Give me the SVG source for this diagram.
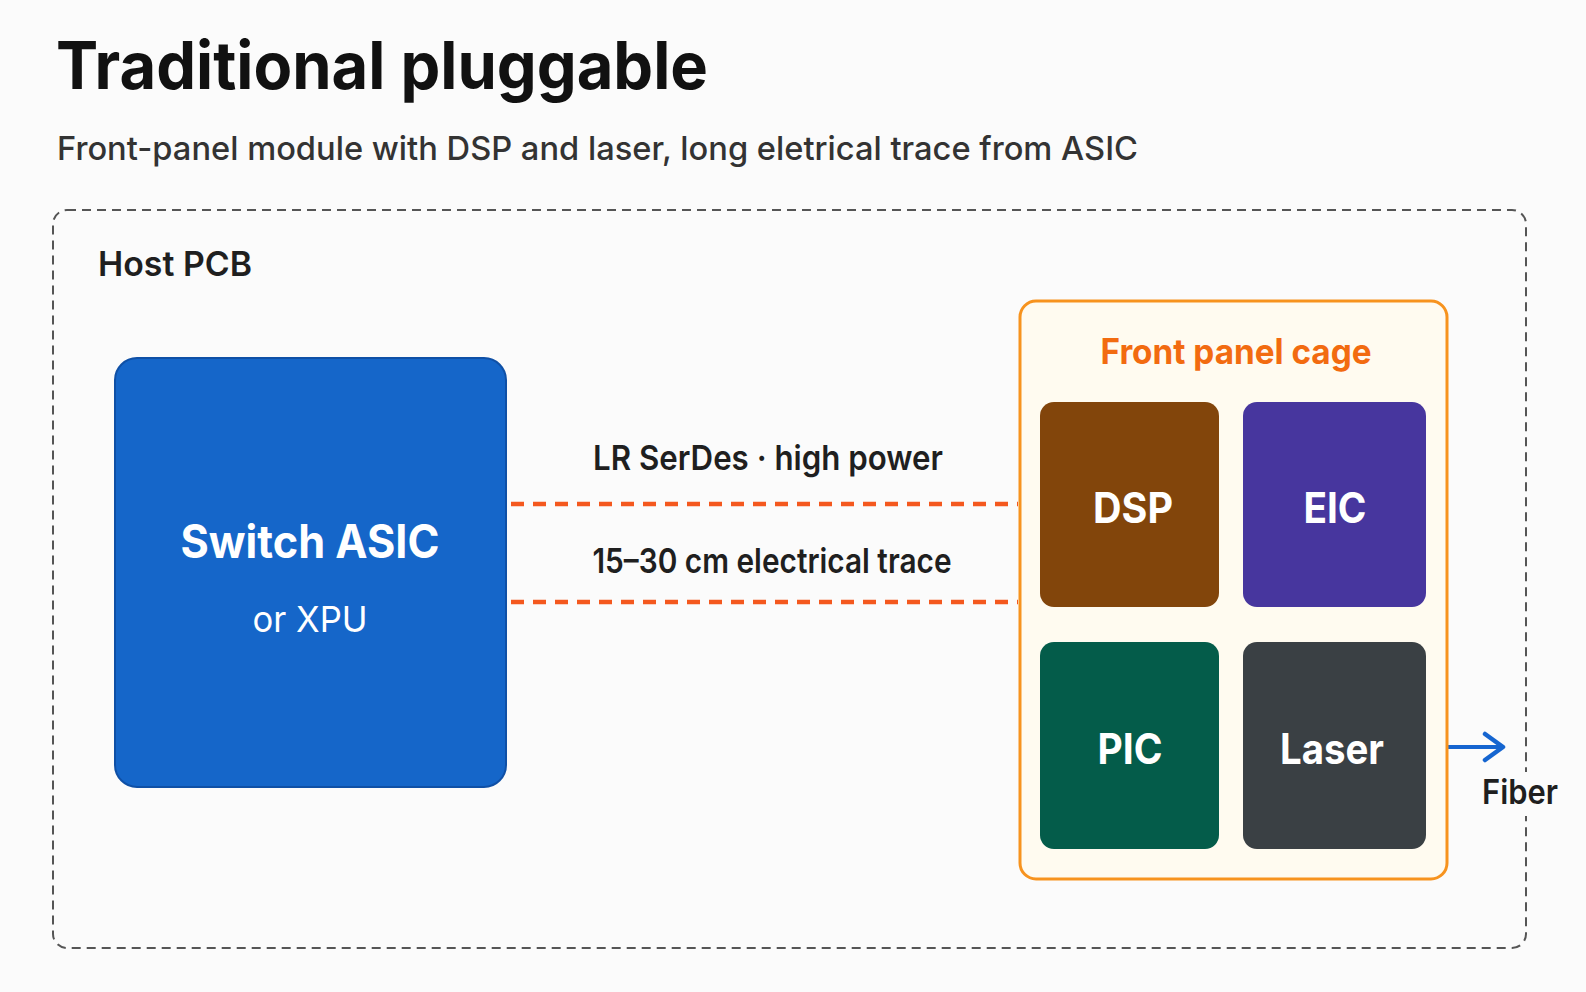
<svg xmlns="http://www.w3.org/2000/svg" width="1586" height="992" viewBox="0 0 1586 992">
<defs>
<style>
text{font-family:Inter,"Noto Sans","Liberation Sans",sans-serif}
.title{font-size:66px;font-weight:700;fill:#111}
.sub{font-size:33px;font-weight:500;fill:#333}
.lbl{font-size:34px;font-weight:600;fill:#1f1f1f}
.chip{font-size:42px;font-weight:700;fill:#fff;text-anchor:middle}
.trace{stroke:#F4581E;stroke-width:4.5;stroke-dasharray:13 9;fill:none}
</style>
<marker id="chev" viewBox="0 0 24 32" refX="21" refY="16" markerWidth="24" markerHeight="32" markerUnits="userSpaceOnUse" orient="auto">
<path d="M3 3 L21 16 L3 29" fill="none" stroke="#1565D0" stroke-width="4.5" stroke-linecap="round" stroke-linejoin="round"/>
</marker>
</defs>
<rect width="1586" height="992" fill="#FBFBFB"/>
<text class="title" x="56" y="89" textLength="652" lengthAdjust="spacingAndGlyphs">Traditional pluggable</text>
<text class="sub" x="57" y="160" textLength="1081" lengthAdjust="spacingAndGlyphs">Front-panel module with DSP and laser, long eletrical trace from ASIC</text>

<g id="host-pcb">
<rect x="53" y="210" width="1473" height="738" rx="14" fill="none" stroke="#555" stroke-width="2" stroke-dasharray="9 6"/>
<text class="lbl" x="98" y="276" font-size="36" textLength="154" lengthAdjust="spacingAndGlyphs">Host PCB</text>
</g>

<g id="switch-asic">
<rect x="115" y="358" width="391" height="429" rx="22" fill="#1566C9" stroke="#0F50A6" stroke-width="2"/>
<text x="310" y="558" text-anchor="middle" font-size="46" font-weight="700" fill="#fff" textLength="259" lengthAdjust="spacingAndGlyphs">Switch ASIC</text>
<text x="310" y="632" text-anchor="middle" font-size="36" font-weight="400" fill="#fff" textLength="115" lengthAdjust="spacingAndGlyphs">or XPU</text>
</g>

<g id="connectors">
<line class="trace" x1="511" y1="504" x2="1018" y2="504"/>
<line class="trace" x1="511" y1="602" x2="1018" y2="602"/>
<text class="lbl" x="768" y="470" text-anchor="middle" font-weight="500" textLength="350" lengthAdjust="spacingAndGlyphs">LR SerDes · high power</text>
<text class="lbl" x="772" y="573" text-anchor="middle" font-weight="500" textLength="359" lengthAdjust="spacingAndGlyphs">15–30 cm electrical trace</text>
<line x1="1426" y1="747" x2="1503" y2="747" stroke="#1565D0" stroke-width="4" marker-end="url(#chev)"/>
<rect x="1515" y="772" width="22" height="44" fill="#FBFBFB"/>
<text class="lbl" x="1482" y="804" textLength="76" lengthAdjust="spacingAndGlyphs">Fiber</text>
</g>

<g id="front-panel-cage">
<rect x="1020" y="301" width="427" height="578" rx="16" fill="#FFFBF0" stroke="#F7931E" stroke-width="3"/>
<text x="1236" y="364" text-anchor="middle" font-size="35" font-weight="700" fill="#F26B10" textLength="271" lengthAdjust="spacingAndGlyphs">Front panel cage</text>
</g>

<g id="dsp">
<rect x="1040" y="402" width="179" height="205" rx="14" fill="#82450B"/>
<text class="chip" x="1133" y="523" textLength="80" lengthAdjust="spacingAndGlyphs">DSP</text>
</g>
<g id="eic">
<rect x="1243" y="402" width="183" height="205" rx="14" fill="#47369E"/>
<text class="chip" x="1335" y="523" textLength="63" lengthAdjust="spacingAndGlyphs">EIC</text>
</g>
<g id="pic">
<rect x="1040" y="642" width="179" height="207" rx="14" fill="#045C4A"/>
<text class="chip" x="1130" y="764" textLength="65" lengthAdjust="spacingAndGlyphs">PIC</text>
</g>
<g id="laser">
<rect x="1243" y="642" width="183" height="207" rx="14" fill="#3A4044"/>
<text class="chip" x="1332" y="764" textLength="104" lengthAdjust="spacingAndGlyphs">Laser</text>
</g>
</svg>
